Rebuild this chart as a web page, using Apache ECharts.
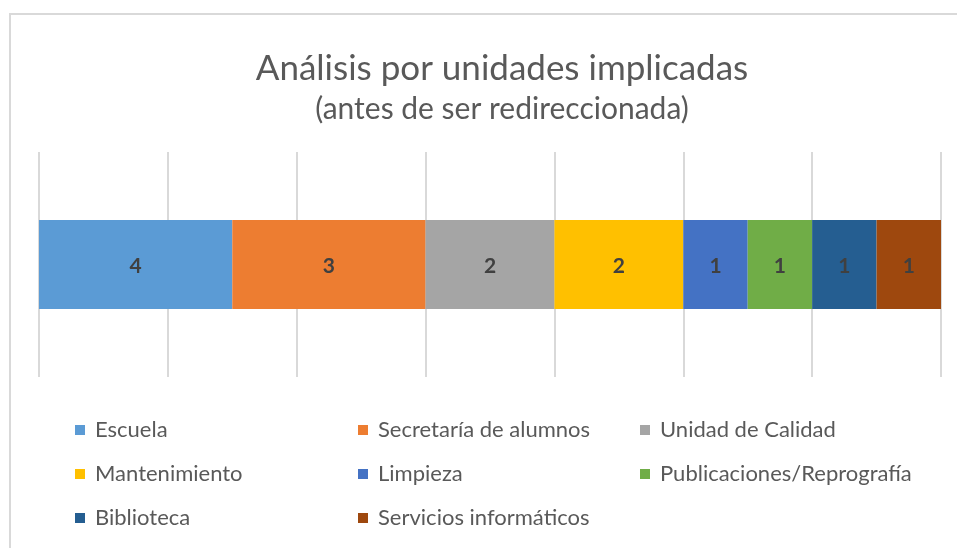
<!DOCTYPE html>
<html>
<head>
<meta charset="utf-8">
<script src="https://cdn.jsdelivr.net/npm/echarts@6/dist/echarts.min.js"></script>
<style>
    html, body { margin: 0; padding: 0; background: #fff; overflow: hidden; }
    #frame { position: absolute; left: 9px; top: 13px; width: 1000px; height: 600px; border: 2px solid #d9d9d9; box-sizing: border-box; }
    #chart { position: absolute; left: 0; top: 0; width: 957px; height: 548px; }
</style>
</head>
<body>
<div id="frame"></div>
<div id="chart"></div>
<script>
// unidades implicadas (antes de ser redireccionada)
const unidades = ['Escuela', 'Secretaría de alumnos', 'Unidad de Calidad', 'Mantenimiento',
    'Limpieza', 'Publicaciones/Reprografía', 'Biblioteca', 'Servicios informáticos'];
// ancho de cada tramo
const barValues = [3, 3, 2, 2, 1, 1, 1, 1];
// etiquetas tal como aparecen en la imagen
const labelTexts = ['4', '3', '2', '2', '1', '1', '1', '1'];
const colores = ['#5B9BD5', '#ED7D31', '#A5A5A5', '#FFC000', '#4472C4', '#70AD47', '#255E91', '#9E480E'];
const categoria = [''];

const fuente = 'Lato';
const gris = '#595959';

const series = unidades.map((name, i) => {
    return {
        name,
        type: 'bar',
        stack: 'total',
        barWidth: 89,
        data: [barValues[i]],
        itemStyle: { color: colores[i] },
        label: {
            show: true,
            position: 'inside',
            formatter: () => labelTexts[i],
            color: '#404040',
            fontWeight: 'bold',
            fontSize: 21,
            fontFamily: fuente,
            offset: [0, 2],
        },
        emphasis: { disabled: true },
    };
});

const legendCol = (left, names) => {
    return {
        left,
        top: 414,
        orient: 'vertical',
        itemGap: 22,
        itemWidth: 10,
        itemHeight: 10,
        icon: 'rect',
        selectedMode: false,
        data: names,
        textStyle: { color: gris, fontSize: 22, lineHeight: 22, fontFamily: fuente, padding: [0, 0, 0, 5] },
    };
};

const chart = echarts.init(document.getElementById('chart'), null, { renderer: 'canvas' });
chart.setOption({
    animation: false,
    title: [{
        text: 'Análisis por unidades implicadas',
        left: 497,
        textAlign: 'center',
        top: 46,
        textStyle: { color: gris, fontSize: 35, fontWeight: 'normal', fontFamily: fuente },
    }, {
        text: '(antes de ser redireccionada)',
        left: 497,
        textAlign: 'center',
        top: 89,
        textStyle: { color: gris, fontSize: 30, fontWeight: 'normal', fontFamily: fuente },
    }],
    legend: [
        legendCol(70, [unidades[0], unidades[3], unidades[6]]),
        legendCol(353, [unidades[1], unidades[4], unidades[7]]),
        legendCol(635, [unidades[2], unidades[5]]),
    ],
    grid: { left: 39, right: 16, top: 152, bottom: 171 },
    xAxis: {
        type: 'value',
        min: 0,
        max: 14,
        interval: 2,
        axisLine: { show: false },
        axisTick: { show: false },
        axisLabel: { show: false },
        splitLine: { lineStyle: { color: '#d9d9d9', width: 2 } },
    },
    yAxis: {
        type: 'category',
        data: categoria,
        axisLine: { show: false },
        axisTick: { show: false },
        axisLabel: { show: false },
    },
    series,
});
</script>
</body>
</html>
